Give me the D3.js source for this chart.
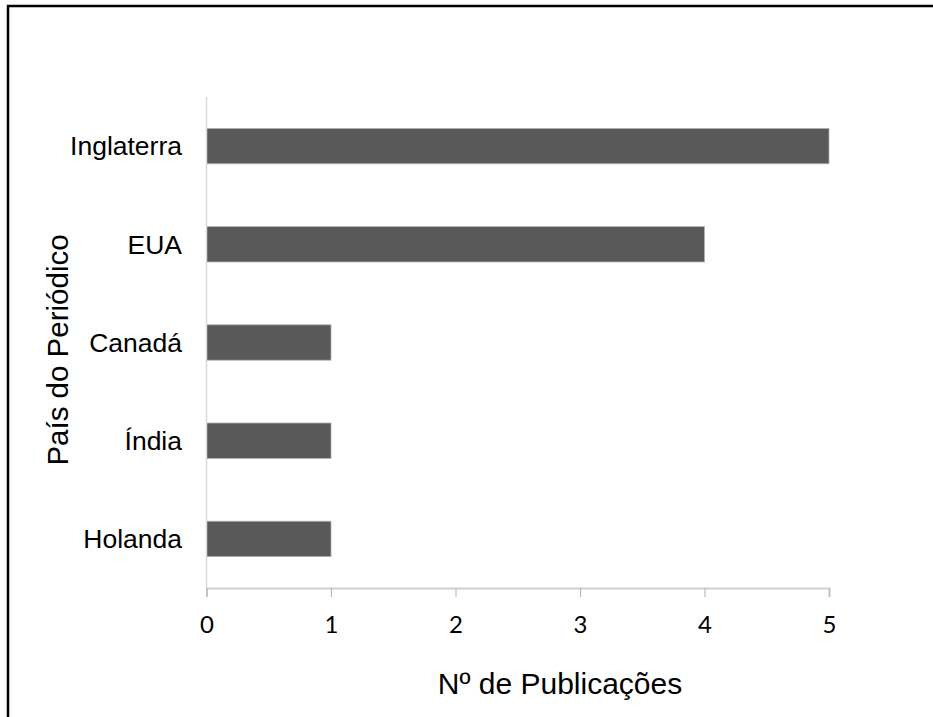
<!DOCTYPE html>
<html>
<head>
<meta charset="utf-8">
<title>País do Periódico</title>
<script src="https://d3js.org/d3.v7.min.js"></script>
<style>
  body { margin: 0; background: #fff; }
  .cat-label { font-family: "Liberation Sans", Arial, sans-serif; font-size: 26.5px; fill: #000; }
  .axis-title { font-family: "Liberation Sans", Arial, sans-serif; fill: #000; }
</style>
</head>
<body>
<div id="chart"></div>
<script>
// data
var countries = ["Inglaterra", "EUA", "Canadá", "Índia", "Holanda"];
var publications = [5, 4, 1, 1, 1];
var xTicks = [0, 1, 2, 3, 4, 5];

var W = 933, H = 717;
var margin = { top: 97, right: 104, bottom: 129, left: 206 };
var width = W - margin.left - margin.right;
var height = H - margin.top - margin.bottom;

var data = countries.map(function(c, i) { return { country: c, value: publications[i] }; });

var svg = d3.select("#chart")
  .append("svg")
  .attr("width", W)
  .attr("height", H);

// outer frame (only top and left are visible in the picture)
svg.append("path")
  .attr("d", "M8," + (H + 5) + "V6H" + (W + 5))
  .attr("fill", "none")
  .attr("stroke", "#000")
  .attr("stroke-width", 2.5);

var g = svg.append("g")
  .attr("transform", "translate(" + margin.left + "," + margin.top + ")");

var x = d3.scaleLinear().domain([0, 5]).range([0.5, width]);
var y = d3.scaleBand().domain(countries).range([0, height])
  .paddingInner(0.64).paddingOuter(0.32);

// bars
g.selectAll(".bar")
  .data(data)
  .enter()
  .append("rect")
  .attr("class", "bar")
  .attr("x", x(0))
  .attr("y", function(d) { return y(d.country); })
  .attr("width", function(d) { return x(d.value) - x(0); })
  .attr("height", y.bandwidth())
  .attr("fill", "#595959")
  .attr("stroke", "#b0b0b0")
  .attr("stroke-width", 0.8);

// vertical axis line, no ticks
g.append("line")
  .attr("x1", x(0)).attr("x2", x(0))
  .attr("y1", 0).attr("y2", height)
  .attr("stroke", "#d9d9d9")
  .attr("stroke-width", 1.5);

// category labels
g.selectAll(".cat-label")
  .data(countries)
  .enter()
  .append("text")
  .attr("class", "cat-label")
  .attr("x", -24)
  .attr("y", function(d) { return y(d) + y.bandwidth() / 2; })
  .attr("dy", "0.35em")
  .attr("text-anchor", "end")
  .text(function(d) { return d; });

// x axis
var xAxis = g.append("g")
  .attr("transform", "translate(0," + height + ")")
  .call(d3.axisBottom(x).tickValues(xTicks).tickSize(9).tickPadding(19).tickFormat(d3.format("d")));

xAxis.attr("font-family", null).attr("font-size", null);
xAxis.selectAll(".tick text")
  .attr("fill", "#000")
  .style("font-family", "Lato, 'Open Sans', sans-serif")
  .style("font-size", "24px");
xAxis.select(".domain").attr("stroke", "#d0d0d0").attr("stroke-width", 2);
xAxis.selectAll(".tick line").attr("stroke", "#bcbcbc").attr("stroke-width", 1.2);

// axis titles
svg.append("text")
  .attr("class", "axis-title")
  .attr("x", 560)
  .attr("y", 694)
  .attr("text-anchor", "middle")
  .style("font-size", "30px")
  .text("Nº de Publicações");

svg.append("text")
  .attr("class", "axis-title")
  .attr("text-anchor", "middle")
  .attr("transform", "translate(68,350) rotate(-90)")
  .style("font-size", "29.5px")
  .text("País do Periódico");
</script>
</body>
</html>
